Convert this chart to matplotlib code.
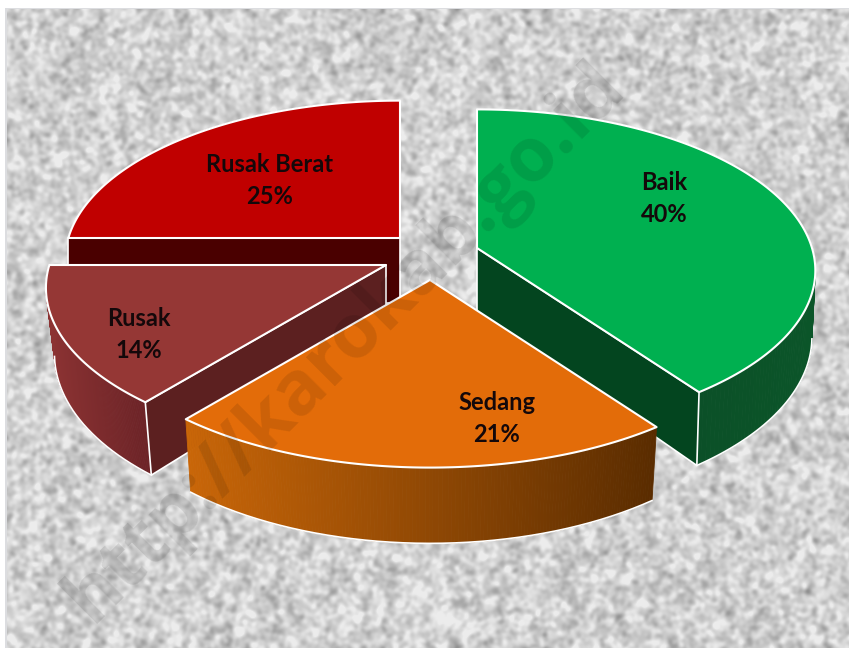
import numpy as np
import matplotlib
matplotlib.use('Agg')
import matplotlib.pyplot as plt
from matplotlib.colors import to_rgb

categories = ['Baik', 'Sedang', 'Rusak', 'Rusak Berat']
values = [40, 21, 14, 25]

top_colors = ['#00b050', '#e36c09', '#953735', '#c00000']
inner_colors = ['#03451f', '#6a3300', '#5c2020', '#4a0000']
side_left = ['#0b4725', '#c96608', '#8c3333', '#7a0000']
side_right = ['#0b5529', '#5a2c00', '#6a2226', '#5a0000']

# apex of each slice in pixels (slices are pulled apart)
apex = [(477, 248), (430, 280), (386, 265), (400, 238)]
slice_r = [1.0, 1.018, 1.005, 0.99]
wall_in = [0.01, 0.02, 0.025, 0.0]
label_pos = [(664, 182), (497, 403), (139, 318), (270, 164)]

A, B, PERSP, DEPTH = 335, 158, 0.14, 65


def project(ap, r, theta, z=0.0, taper=0.0):
    # theta clockwise from 12 o'clock, z = 1 is the bottom of the slab
    x = r * np.sin(theta)
    y = r * np.cos(theta)
    s = 1 / (1 + PERSP * y)
    return ap[0] + A * x * s * (1 - taper * z), ap[1] - B * y * s + DEPTH * z * s


fig = plt.figure(figsize=(8.49, 6.48), dpi=100)
ax = fig.add_axes([0, 0, 1, 1])
ax.axis('off')

# granite background, only decoration
rng = np.random.RandomState(7)
h, w = 648 - 9, 849 - 7
noise = rng.normal(size=(h, w))
fy = np.fft.fftfreq(h)[:, None]
fx = np.fft.fftfreq(w)[None, :]
blur = np.exp(-2 * np.pi**2 * (fx**2 + fy**2) * 2.1**2) + 0.4 * np.exp(-2 * np.pi**2 * (fx**2 + fy**2) * 5.0**2)
tex = np.fft.ifft2(np.fft.fft2(noise) * blur).real
tex = (tex - tex.mean()) / tex.std()
tex = np.clip(208 + 15 * tex, 145, 236)
ax.add_patch(plt.Rectangle((5.5, 7.5), 843.5, 648, fc='#dcdde0', ec='none', zorder=0))
ax.imshow(tex, cmap='gray', vmin=0, vmax=255, extent=(7.5, 849, 648, 9), aspect='auto', zorder=0.5,
          interpolation='bilinear')
ax.set_xlim(0, 849)
ax.set_ylim(648, 0)

# start angles come from the values
fractions = np.array(values) / sum(values)
starts = np.concatenate([[0], np.cumsum(fractions)[:-1]]) * 2 * np.pi
ends = starts + fractions * 2 * np.pi

z = 1
for i in [3, 0, 2, 1]:
    ap = apex[i]
    r = slice_r[i]
    th = np.linspace(starts[i], ends[i], 160)
    tx, ty = project(ap, r, th)
    bx, by = project(ap, r, th, 1, wall_in[i])

    # outer wall as thin strips so it can shade from left to right
    c0, c1 = np.array(to_rgb(side_left[i])), np.array(to_rgb(side_right[i]))
    xmin, xmax = min(tx.min(), bx.min()), max(tx.max(), bx.max())
    for j in range(len(th) - 1):
        t = ((tx[j] + tx[j + 1]) / 2 - xmin) / (xmax - xmin)
        col = c0 + (c1 - c0) * t
        ax.fill([tx[j], tx[j + 1], bx[j + 1], bx[j]], [ty[j], ty[j + 1], by[j + 1], by[j]],
                fc=col, ec=col, lw=0.6, zorder=z)
    # white rim only along the front of the wall
    front = np.cos(th) < -0.15
    ax.plot(bx[front], by[front], color='white', lw=1.2, zorder=z + 0.1)

    # cut faces, only the ones turned towards the viewer
    for ang, sign in [(starts[i], -1), (ends[i], 1)]:
        if sign * np.sin(ang) > 0.01:
            px, py = project(ap, r, ang)
            qx, qy = project(ap, r, ang, 1, wall_in[i])
            cx, cy = project(ap, 0, ang, 1)
            ax.fill([ap[0], px, qx, cx], [ap[1], py, qy, cy], fc=inner_colors[i], ec='white', lw=1.2,
                    joinstyle='round', zorder=z + 0.2)

    # top
    ax.fill(np.r_[ap[0], tx], np.r_[ap[1], ty], fc=top_colors[i], ec='white', lw=1.5,
            joinstyle='round', zorder=z + 0.3)
    z += 1

# watermark runs over the chart
ax.text(345, 343, 'http://karokab.go.id', rotation=45, rotation_mode='anchor', ha='center', va='center',
        fontsize=54, fontweight='bold', family='Open Sans', color='black', alpha=0.1, zorder=z)

for i, name in enumerate(categories):
    lx, ly = label_pos[i]
    ax.text(lx, ly, name, ha='center', va='center', fontsize=17, fontweight='bold', family='Lato',
            color='#14080a', zorder=z + 1)
    ax.text(lx, ly + 32, f'{values[i]}%', ha='center', va='center', fontsize=17, fontweight='bold',
            family='Lato', color='#14080a', zorder=z + 1)

fig.savefig('out.png', dpi=100, facecolor='white')
